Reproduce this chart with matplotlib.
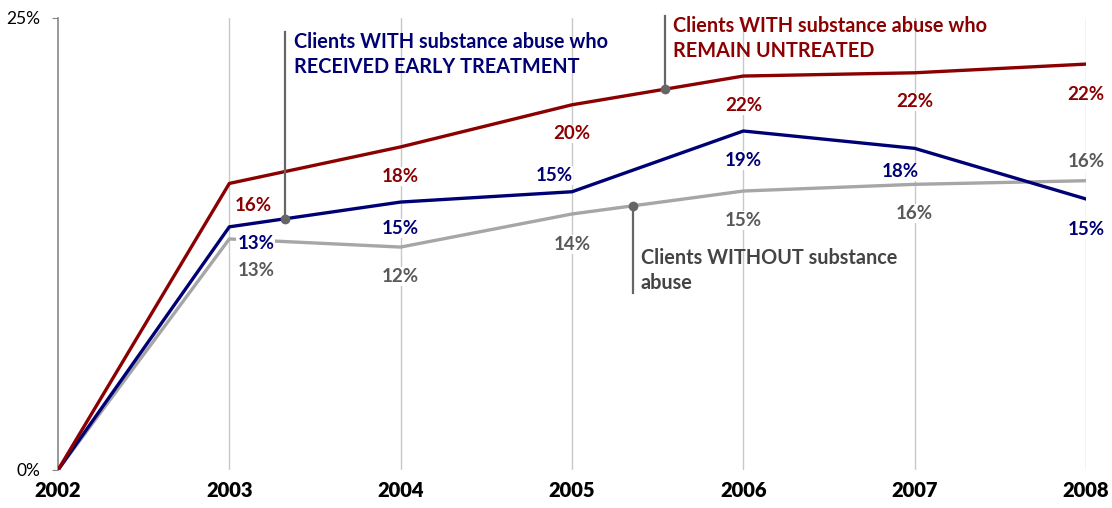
import numpy as np
import matplotlib
matplotlib.use("Agg")
import matplotlib.pyplot as plt

plt.rcParams['font.family'] = ['Lato', 'DejaVu Sans']

years = [2002, 2003, 2004, 2005, 2006, 2007, 2008]
untreated = [0, 15.85, 17.87, 20.2, 21.79, 21.97, 22.45]
early = [0, 13.45, 14.82, 15.39, 18.75, 17.79, 14.99]
without = [0, 12.78, 12.33, 14.16, 15.43, 15.8, 16.0]

RED = '#8B0000'
NAVY = '#000075'
GRAY = '#A6A6A6'
GRAY_TXT = '#595959'
LEAD = '#666666'

# label offsets (points) for each series, per year
red_off = [None, (17, -16), (0, -21), (0, -21), (0, -21), (0, -21), (0, -22)]
blue_off = [None, (19, -12), (0, -19), (-13, 12), (0, -21), (-10, -17), (0, -22)]
gray_off = [None, (19, -23), (0, -21), (0, -22), (0, -21), (0, -21), (0, 14)]

fig = plt.figure(figsize=(11.12, 5.08), dpi=100)
ax = fig.add_axes([58 / 1112, 38 / 508, 1028 / 1112, 452 / 508])

ax.plot(years, without, color=GRAY, lw=2.4, zorder=3)
ax.plot(years, early, color=NAVY, lw=2.4, zorder=4)
ax.plot(years, untreated, color=RED, lw=2.4, zorder=5)

ax.set_xlim(2002, 2008)
ax.set_ylim(0, 25)
ax.set_xticks(years)
ax.set_xticklabels([str(y) for y in years], fontsize=14.5, fontweight='heavy', color='black')
ax.set_yticks([0, 25])
ax.set_yticklabels(['0%', '25%'], fontsize=12.5, color='black')
ax.tick_params(axis='x', length=0, pad=8)
ax.tick_params(axis='y', length=4.5, color='#888888', pad=8)
for s in ['top', 'right', 'bottom']:
    ax.spines[s].set_visible(False)
ax.spines['left'].set_color('#888888')
ax.spines['left'].set_linewidth(1.2)
for y in years[1:]:
    ax.axvline(y, color='#C8C8C8', lw=1, zorder=1)


def put_labels(vals, offs, color):
    for x, v, o in zip(years, vals, offs):
        if o is None:
            continue
        ax.annotate(f'{v:.0f}%', (x, v), xytext=o, textcoords='offset points',
                    ha='center', va='center', fontsize=13.5, fontweight='bold',
                    color=color, zorder=6,
                    bbox=dict(boxstyle='square,pad=0.05', fc='white', ec='none'))


put_labels(untreated, red_off, RED)
put_labels(early, blue_off, NAVY)
put_labels(without, gray_off, GRAY_TXT)


def leader(x, vals, y_end, text, color, tx_off):
    yv = np.interp(x, years, vals)
    ax.plot([x, x], [yv, y_end], color=LEAD, lw=1.6, zorder=7, clip_on=False)
    ax.plot([x], [yv], 'o', color=LEAD, ms=6, zorder=8)
    ax.text(x + tx_off, y_end, text, color=color, fontsize=14.3, fontweight='bold',
            ha='left', va='top' if y_end > yv else 'bottom', linespacing=1.3, zorder=8)


leader(2003.325, early, 24.2, 'Clients WITH substance abuse who\nRECEIVED EARLY TREATMENT', NAVY, 0.055)
leader(2005.544, untreated, 25.1, 'Clients WITH substance abuse who\nREMAIN UNTREATED', RED, 0.048)
leader(2005.357, without, 9.8, 'Clients WITHOUT substance\nabuse', '#444444', 0.045)

fig.savefig('out.png', dpi=100)
